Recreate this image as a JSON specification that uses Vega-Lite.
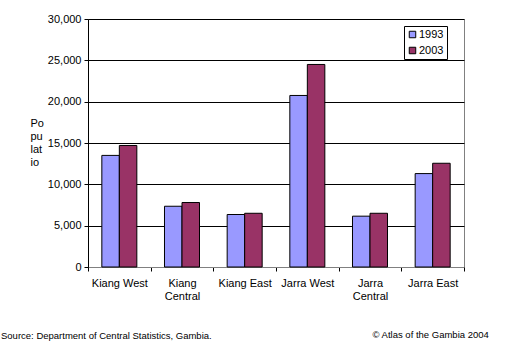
{
  "$schema": "https://vega.github.io/schema/vega-lite/v6.json",
  "width": 376,
  "height": 248,
  "autosize": {"type": "none"},
  "padding": {"left": 88, "top": 19, "right": 41, "bottom": 90},
  "background": "white",
  "config": {
    "font": "Liberation Sans",
    "view": {"stroke": "#808080", "strokeWidth": 1}
  },
  "title": {
    "text": "Source: Department of Central Statistics, Gambia.",
    "orient": "bottom",
    "anchor": "start",
    "frame": "group",
    "fontSize": 9.5,
    "fontWeight": "normal",
    "color": "black",
    "dx": -87,
    "offset": 0,
    "dy": -8
  },
  "data": {
    "values": [
      {"district": "Kiang West", "year": "1993", "population": 13500},
      {"district": "Kiang West", "year": "2003", "population": 14700},
      {"district": "Kiang Central", "year": "1993", "population": 7350},
      {"district": "Kiang Central", "year": "2003", "population": 7800},
      {"district": "Kiang East", "year": "1993", "population": 6350},
      {"district": "Kiang East", "year": "2003", "population": 6500},
      {"district": "Jarra West", "year": "1993", "population": 20750},
      {"district": "Jarra West", "year": "2003", "population": 24500},
      {"district": "Jarra Central", "year": "1993", "population": 6150},
      {"district": "Jarra Central", "year": "2003", "population": 6500},
      {"district": "Jarra East", "year": "1993", "population": 11300},
      {"district": "Jarra East", "year": "2003", "population": 12550}
    ]
  },
  "mark": {"type": "bar", "stroke": "black", "strokeWidth": 1},
  "encoding": {
    "x": {
      "field": "district",
      "type": "nominal",
      "sort": null,
      "scale": {"paddingInner": 0, "paddingOuter": 0},
      "axis": {
        "title": "© Atlas of the Gambia 2004",
        "titleX": 284,
        "titleY": 70,
        "titleAlign": "left",
        "titleBaseline": "alphabetic",
        "titleAnchor": null,
        "titleFontSize": 9.5,
        "titleFontWeight": "normal",
        "titleColor": "black",
        "labelAngle": 0,
        "tickBand": "extent",
        "domainColor": "#808080",
        "tickColor": "black",
        "tickSize": 4,
        "labelFontSize": 11,
        "labelColor": "black",
        "labelPadding": 6,
        "labelLineHeight": 13,
        "labelBaseline": "top",
        "labelExpr": "datum.value == 'Kiang Central' ? ['Kiang', 'Central'] : datum.value == 'Jarra Central' ? ['Jarra', 'Central'] : datum.label"
      }
    },
    "xOffset": {
      "field": "year",
      "type": "nominal",
      "scale": {"paddingInner": 0, "paddingOuter": 0.79}
    },
    "y": {
      "field": "population",
      "type": "quantitative",
      "scale": {"domain": [0, 30000], "nice": false},
      "axis": {
        "title": ["Po", "pu", "lat", "io"],
        "titleAngle": 0,
        "titleAlign": "left",
        "titleBaseline": "top",
        "titleX": -58,
        "titleY": 98,
        "titleFontSize": 11,
        "titleFontWeight": "normal",
        "titleLineHeight": 13,
        "titleColor": "black",
        "format": ",.0f",
        "values": [0, 5000, 10000, 15000, 20000, 25000, 30000],
        "grid": true,
        "gridColor": "black",
        "gridOpacity": 1,
        "domainColor": "black",
        "tickColor": "black",
        "tickSize": 4,
        "labelFontSize": 11,
        "labelColor": "black",
        "labelPadding": 3
      }
    },
    "color": {
      "field": "year",
      "type": "nominal",
      "scale": {"range": ["#9999FF", "#993366"]},
      "legend": {
        "title": null,
        "orient": "none",
        "legendX": 316,
        "legendY": 7,
        "strokeColor": "black",
        "fillColor": "white",
        "padding": 3,
        "symbolType": "square",
        "symbolSize": 42,
        "symbolStrokeColor": "black",
        "symbolStrokeWidth": 1,
        "symbolOpacity": 1,
        "labelFontSize": 11,
        "labelColor": "black",
        "labelOffset": 1,
        "rowPadding": 4
      }
    }
  }
}
